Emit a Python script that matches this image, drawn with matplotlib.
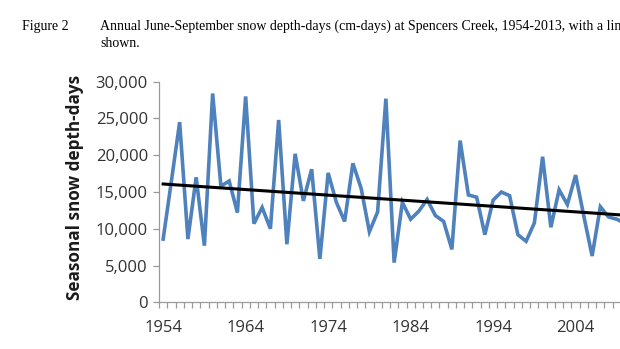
import numpy as np
import matplotlib
matplotlib.use("Agg")
import matplotlib.pyplot as plt
from matplotlib.ticker import FixedLocator, FuncFormatter

# Seasonal (June-September) snow depth-days at Spencers Creek, cm-days
years = list(range(1954, 2014))
depth_days = [
    8600, 16500, 24500, 8600, 17000, 7700, 28400, 15800, 16500, 12200,   # 1954-1963
    28000, 10700, 12900, 10000, 24800, 7900, 20200, 13800, 18100, 5900,  # 1964-1973
    17600, 13600, 11000, 18900, 15500, 9600, 12300, 27700, 5400, 13600,  # 1974-1983
    11300, 12400, 14000, 11800, 11000, 7200, 22000, 14600, 14300, 9200,  # 1984-1993
    13900, 15000, 14500, 9200, 8300, 10800, 19800, 10200, 15300, 13300,  # 1994-2003
    17300, 11700, 6300, 13000, 11600, 11300, 10700, 11500, 14000, 12500, # 2004-2013
]
year_labels = [1954, 1964, 1974, 1984, 1994, 2004]
y_ticks = [0, 5000, 10000, 15000, 20000, 25000, 30000]

caption_label = "Figure 2"
caption_line1 = ("Annual June-September snow depth-days (cm-days) at Spencers Creek, "
                 "1954-2013, with a linear trend line")
caption_line2 = "shown."

series_color = "#4F81BD"
axis_grey = "#9A9A9A"
text_grey = "#333333"

W, H = 620, 349
fig = plt.figure(figsize=(W / 100, H / 100), dpi=100)
fig.patch.set_facecolor("white")

# The plot area runs past the right edge of the page
ax = fig.add_axes([0.2565, 0.1338, 0.7983, 0.632])

x = np.array(years, dtype=float)
y = np.array(depth_days, dtype=float)
ax.plot(x, y, color=series_color, lw=2.6, solid_joinstyle="miter", zorder=2)

# Least-squares linear trend
slope, intercept = np.polyfit(x, y, 1)
x_tr = np.array([x[0], x[-1] + 0.5])
ax.plot(x_tr, slope * x_tr + intercept, color="black", lw=2.2, zorder=3)

ax.set_xlim(years[0] - 0.5, years[-1] + 0.5)
ax.set_ylim(0, 30000)

ax.yaxis.set_major_locator(FixedLocator(y_ticks))
ax.yaxis.set_major_formatter(FuncFormatter(lambda v, p: f"{int(v):,}"))

ax.xaxis.set_major_locator(FixedLocator(year_labels))
ax.xaxis.set_minor_locator(FixedLocator(np.arange(years[0] - 0.5, years[-1] + 1.0, 1.0)))
ax.tick_params(axis="x", which="major", length=0, pad=13, labelsize=12,
               labelcolor=text_grey)
ax.tick_params(axis="x", which="minor", length=4, width=0.9, color=axis_grey,
               direction="out")
ax.tick_params(axis="y", which="major", length=4, width=0.9, color=axis_grey,
               direction="out", pad=4, labelsize=12, labelcolor=text_grey)
for lbl in ax.get_xticklabels() + ax.get_yticklabels():
    lbl.set_fontfamily("Open Sans")

for side in ("top", "right"):
    ax.spines[side].set_visible(False)
for side in ("left", "bottom"):
    ax.spines[side].set_color(axis_grey)
    ax.spines[side].set_linewidth(0.9)

ax.set_ylabel("Seasonal snow depth-days", fontsize=12.3, fontweight="bold",
              fontfamily="Open Sans", color="#1a1a1a", va="center")
ax.yaxis.set_label_coords(-0.170, 0.52)

serif = "Liberation Serif"
fig.text(22 / W, 1 - 30 / H, caption_label, fontsize=10, fontfamily=serif,
         va="baseline", ha="left")
fig.text(100 / W, 1 - 30 / H, caption_line1, fontsize=10, fontfamily=serif,
         va="baseline", ha="left")
fig.text(100 / W, 1 - 47 / H, caption_line2, fontsize=10, fontfamily=serif,
         va="baseline", ha="left")

fig.savefig("out.png", dpi=100, facecolor="white")
